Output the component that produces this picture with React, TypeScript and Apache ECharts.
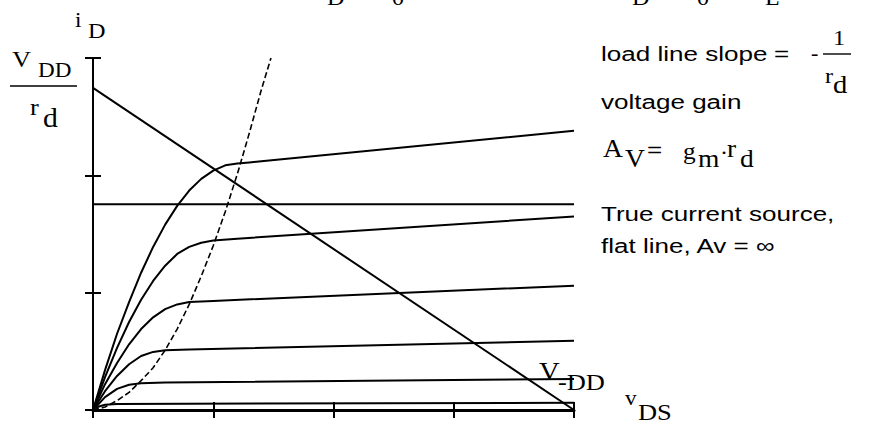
import React, { useEffect, useRef } from "react";
import * as echarts from "echarts";

// Drain current i_D versus drain-source voltage v_DS, one curve per gate drive.
const curveA = [[0, 0], [0.1, 0.34], [0.2, 0.65], [0.3, 0.92], [0.4, 1.17], [0.5, 1.39], [0.6, 1.58], [0.7, 1.74], [0.8, 1.87], [0.9, 1.97], [1.0, 2.04], [1.1, 2.085], [1.2, 2.10], [1.3, 2.11], [1.4, 2.12], [4.0, 2.38]];
const curveB = [[0, 0], [0.1, 0.28], [0.2, 0.53], [0.3, 0.75], [0.4, 0.94], [0.5, 1.10], [0.6, 1.23], [0.7, 1.33], [0.8, 1.39], [0.9, 1.425], [1.0, 1.445], [1.2, 1.46], [4.0, 1.65]];
const curveC = [[0, 0], [0.1, 0.22], [0.2, 0.40], [0.3, 0.56], [0.4, 0.69], [0.5, 0.79], [0.6, 0.86], [0.7, 0.90], [0.8, 0.92], [1.0, 0.93], [4.0, 1.06]];
const curveD = [[0, 0], [0.1, 0.16], [0.2, 0.29], [0.3, 0.39], [0.4, 0.46], [0.5, 0.495], [0.6, 0.51], [0.8, 0.515], [4.0, 0.59]];
const curveE = [[0, 0], [0.1, 0.11], [0.2, 0.18], [0.3, 0.215], [0.4, 0.228], [0.6, 0.235], [4.0, 0.265]];
const curveF = [[0, 0], [0.05, 0.03], [0.1, 0.045], [0.2, 0.052], [4.0, 0.062]];

// Edge of saturation (dashed), load line and ideal current source.
const saturationEdge = [[0, 0], [0.1, 0.025], [0.2, 0.08], [0.3, 0.15], [0.4, 0.25], [0.5, 0.36], [0.6, 0.51], [0.7, 0.69], [0.8, 0.9], [0.9, 1.14], [1.0, 1.4], [1.1, 1.69], [1.2, 2.01], [1.3, 2.36], [1.4, 2.73], [1.48, 3.0]];
const loadLine = [[0, 2.745], [4, 0]];
const currentSource = [[0, 1.753], [4, 1.753]];

const xRange = [0, 4];
const yRange = [0, 3];

const SERIF = "'Liberation Serif', serif";
const SANS = "'Liberation Sans', sans-serif";

function label(text: string, left: number, base: number, size: number, family: string, sx = 1) {
  return {
    type: "text",
    x: left,
    y: base - 0.34 * size,
    scaleX: sx,
    silent: true,
    style: {
      text,
      x: 0,
      y: 0,
      font: `${size}px ${family}`,
      fill: "#000",
      textAlign: "left",
      textVerticalAlign: "middle",
      align: "left",
      verticalAlign: "middle",
    },
  };
}

function bar(x1: number, x2: number, y: number) {
  return {
    type: "line",
    silent: true,
    shape: { x1, y1: y, x2, y2: y },
    style: { stroke: "#000", lineWidth: 1.4 },
  };
}

function solid(data: number[][]) {
  return {
    type: "line",
    data,
    showSymbol: false,
    symbol: "none",
    smooth: false,
    lineStyle: { color: "#000", width: 2 },
    z: 3,
  };
}

export default function App() {
  const ref = useRef<HTMLDivElement>(null);

  useEffect(() => {
    if (!ref.current) return;
    const chart = echarts.init(ref.current, undefined, { renderer: "svg" });

    const axisBase = {
      type: "value",
      splitLine: { show: false },
      axisLabel: { show: false },
    };

    const sx = 1.24;
    const serifX = 1.1;

    chart.setOption({
      animation: false,
      backgroundColor: "#fff",
      grid: { left: 93, right: 295, top: 58, bottom: 14, containLabel: false },
      xAxis: [
        {
          ...axisBase,
          min: xRange[0],
          max: xRange[1],
          interval: 1,
          position: "bottom",
          axisLine: { show: true, onZero: false, lineStyle: { color: "#000", width: 3 } },
          axisTick: { show: true, length: 8, lineStyle: { color: "#000", width: 2 } },
        },
        {
          ...axisBase,
          min: xRange[0],
          max: xRange[1],
          interval: 1,
          position: "bottom",
          offset: 0,
          axisLine: { show: false, onZero: false },
          axisTick: { show: true, inside: true, length: 8, lineStyle: { color: "#000", width: 2 } },
        },
      ],
      yAxis: [
        {
          ...axisBase,
          min: yRange[0],
          max: yRange[1],
          interval: 1,
          position: "left",
          axisLine: { show: true, onZero: false, lineStyle: { color: "#000", width: 2 } },
          axisTick: { show: true, length: 8, lineStyle: { color: "#000", width: 2 } },
        },
        {
          ...axisBase,
          min: yRange[0],
          max: yRange[1],
          interval: 1,
          position: "left",
          offset: 0,
          axisLine: { show: false, onZero: false },
          axisTick: { show: true, inside: true, length: 8, lineStyle: { color: "#000", width: 2 } },
        },
      ],
      series: [
        {
          type: "line",
          data: saturationEdge,
          symbol: "none",
          smooth: false,
          lineStyle: { color: "#000", width: 1.6, type: [6, 3] },
          z: 2,
        },
        solid(curveA),
        solid(curveB),
        solid(curveC),
        solid(curveD),
        solid(curveE),
        solid(curveF),
        solid(loadLine),
        solid(currentSource),
      ],
      graphic: [
        // subscripts of the equation cut by the top edge
        label("D", 327, 5, 22, SERIF, serifX),
        label("0", 392, 5, 22, SERIF, serifX),
        label("D", 632, 5, 22, SERIF, serifX),
        label("0", 697, 5, 22, SERIF, serifX),
        label("L", 765, 5, 22, SERIF, serifX),
        // i_D
        label("i", 75, 27, 21, SERIF, serifX),
        label("D", 88, 38, 22, SERIF, serifX),
        // V_DD / r_d
        label("V", 12, 67, 24, SERIF, serifX),
        label("DD", 38, 77, 21, SERIF, serifX),
        bar(10, 77, 86),
        label("r", 30, 115, 24, SERIF, serifX),
        label("d", 43, 127, 27, SERIF, serifX),
        // load line slope = -1/r_d
        label("load line slope", 601, 61, 21, SANS, sx),
        label("=", 774, 61, 21, SANS, sx),
        label("-", 811, 60, 20, SERIF, serifX),
        label("1", 833, 45, 22, SERIF, serifX),
        bar(823, 851, 54),
        label("r", 825, 83, 22, SERIF, serifX),
        label("d", 833, 93, 26, SERIF, serifX),
        // voltage gain
        label("voltage gain", 601, 109, 21, SANS, sx),
        label("A", 603, 157, 25, SERIF, serifX),
        label("V", 625, 167, 25, SERIF, serifX),
        label("=", 647, 157, 21, SANS, sx),
        label("g", 683, 159, 23, SERIF, serifX),
        label("m", 698, 167, 25, SERIF, serifX),
        label("·", 720, 160, 22, SERIF, serifX),
        label("r", 727, 157, 25, SERIF, serifX),
        label("d", 740, 167, 25, SERIF, serifX),
        // current source note
        label("True current source,", 601, 221, 21, SANS, sx),
        label("flat line, Av = ∞", 601, 253, 21, SANS, sx),
        // V_DD on the voltage axis, v_DS axis name
        label("V", 539, 380, 26, SERIF, serifX),
        label("-DD", 558, 390, 24, SERIF, serifX),
        label("v", 625, 405, 21, SERIF, serifX),
        label("DS", 638, 420, 24, SERIF, serifX),
      ],
    });

    return () => chart.dispose();
  }, []);

  return (
    <div
      ref={ref}
      style={{ position: "fixed", left: 0, top: 0, width: 869, height: 424, background: "#fff" }}
    />
  );
}
